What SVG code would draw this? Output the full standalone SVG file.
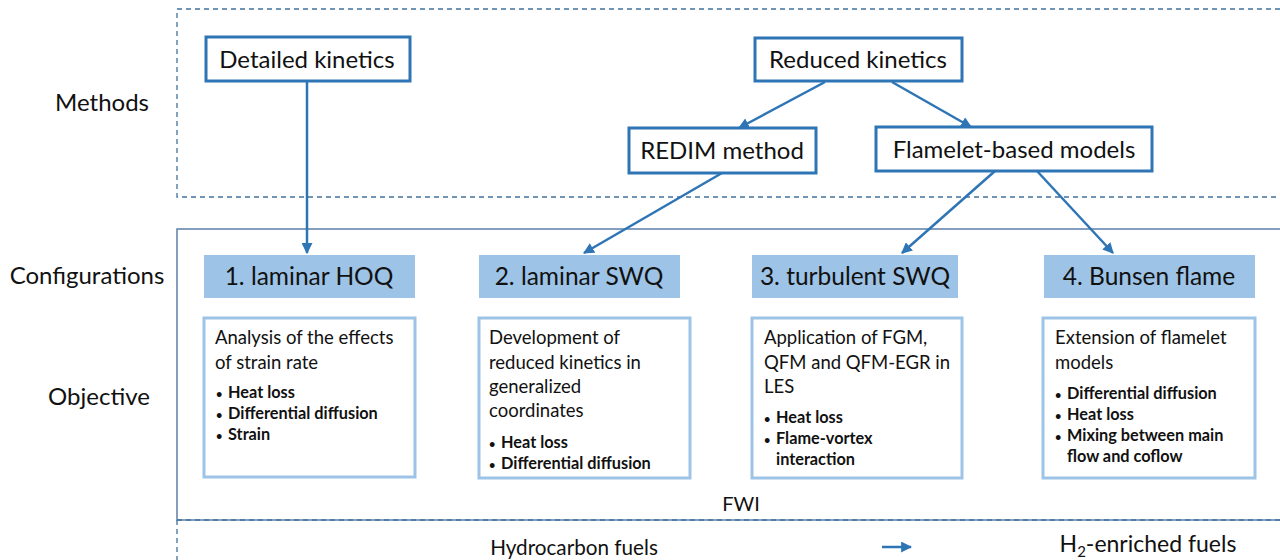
<svg xmlns="http://www.w3.org/2000/svg" width="1280" height="560" viewBox="0 0 1280 560">
<defs>
<style>
text{font-family:Lato,"Liberation Sans",sans-serif;fill:#111}
.node rect{fill:#fff;stroke:#2E75B6;stroke-width:3}
.nt{font-size:24px;text-anchor:middle}
.cfg rect{fill:#9DC3E6}
.ct{font-size:24.5px;text-anchor:middle}
.obj rect{fill:#fff;stroke:#9DC3E6;stroke-width:3}
.ot{font-size:18.5px}
.bt{font-size:16.3px;font-weight:bold}
.bu{font-size:11px}
.lab{font-size:24px;text-anchor:middle}
.conn line{stroke:#2E75B6;stroke-width:2.5;marker-end:url(#ah)}
</style>
<marker id="ah" viewBox="0 0 10 10" refX="9" refY="5" markerWidth="4.4" markerHeight="4.4" orient="auto" markerUnits="strokeWidth">
<path d="M0,0 L10,5 L0,10 z" fill="#2E75B6"/>
</marker>
</defs>
<rect width="1280" height="560" fill="#fff"/>
<g id="frames" fill="none">
<path d="M1280,9 H177 V197 H1280" stroke="#41719C" stroke-width="1.3" stroke-dasharray="5,4"/>
<path d="M1280,229 H177 V520 H1280" stroke="#5B80A8" stroke-width="1.5"/>
<path d="M177,520 V560" stroke="#41719C" stroke-width="1.3" stroke-dasharray="5,4"/>
<path d="M177,520 H1280" stroke="#41719C" stroke-width="1.3" stroke-dasharray="5,4"/>
</g>
<g id="labels">
<text class="lab" x="102" y="111">Methods</text>
<text class="lab" x="87" y="284">Configurations</text>
<text class="lab" x="99" y="405">Objective</text>
<text x="741" y="511" font-size="20" text-anchor="middle">FWI</text>
<text x="574" y="555" font-size="20.7" text-anchor="middle">Hydrocarbon fuels</text>
<text x="1148" y="552" font-size="23" text-anchor="middle">H<tspan font-size="15" dy="5">2</tspan><tspan dy="-5">-enriched fuels</tspan></text>
</g>
<g id="node-detailed" class="node"><rect x="206" y="37" width="204" height="44"/><text class="nt" x="307" y="68">Detailed kinetics</text></g>
<g id="node-reduced" class="node"><rect x="755" y="38" width="207" height="43"/><text class="nt" x="858" y="68">Reduced kinetics</text></g>
<g id="node-redim" class="node"><rect x="629" y="128" width="187" height="45"/><text class="nt" x="722" y="159">REDIM method</text></g>
<g id="node-flamelet" class="node"><rect x="876" y="127" width="276" height="44"/><text class="nt" x="1014" y="158">Flamelet-based models</text></g>
<g id="cfg1" class="cfg"><rect x="204" y="255" width="211" height="43"/><text class="ct" x="309" y="285">1. laminar HOQ</text></g>
<g id="cfg2" class="cfg"><rect x="479" y="255" width="201" height="43"/><text class="ct" x="579" y="285">2. laminar SWQ</text></g>
<g id="cfg3" class="cfg"><rect x="752" y="255" width="206" height="43"/><text class="ct" x="855" y="285">3. turbulent SWQ</text></g>
<g id="cfg4" class="cfg"><rect x="1044" y="255" width="211" height="43"/><text class="ct" x="1149" y="285">4. Bunsen flame</text></g>
<g id="obj1" class="obj"><rect x="204" y="318" width="211" height="159"/>
<text class="ot" x="215" y="344">Analysis of the effects</text>
<text class="ot" x="215" y="369">of strain rate</text>
<text class="bt" x="216" y="398"><tspan class="bu">•</tspan><tspan x="228">Heat loss</tspan></text>
<text class="bt" x="216" y="419"><tspan class="bu">•</tspan><tspan x="228">Differential diffusion</tspan></text>
<text class="bt" x="216" y="440"><tspan class="bu">•</tspan><tspan x="228">Strain</tspan></text>
</g>
<g id="obj2" class="obj"><rect x="479" y="318" width="211" height="160"/>
<text class="ot" x="489" y="344">Development of</text>
<text class="ot" x="489" y="369">reduced kinetics in</text>
<text class="ot" x="489" y="393">generalized</text>
<text class="ot" x="489" y="417">coordinates</text>
<text class="bt" x="489" y="448"><tspan class="bu">•</tspan><tspan x="501">Heat loss</tspan></text>
<text class="bt" x="489" y="469"><tspan class="bu">•</tspan><tspan x="501">Differential diffusion</tspan></text>
</g>
<g id="obj3" class="obj"><rect x="752" y="318" width="210" height="160"/>
<text class="ot" x="764" y="344">Application of FGM,</text>
<text class="ot" x="764" y="369">QFM and QFM-EGR in</text>
<text class="ot" x="764" y="393">LES</text>
<text class="bt" x="764" y="423"><tspan class="bu">•</tspan><tspan x="776">Heat loss</tspan></text>
<text class="bt" x="764" y="444"><tspan class="bu">•</tspan><tspan x="776">Flame-vortex</tspan></text>
<text class="bt" x="776" y="465">interaction</text>
</g>
<g id="obj4" class="obj"><rect x="1043" y="318" width="212" height="160"/>
<text class="ot" x="1055" y="344">Extension of flamelet</text>
<text class="ot" x="1055" y="369">models</text>
<text class="bt" x="1055" y="399"><tspan class="bu">•</tspan><tspan x="1067">Differential diffusion</tspan></text>
<text class="bt" x="1055" y="420"><tspan class="bu">•</tspan><tspan x="1067">Heat loss</tspan></text>
<text class="bt" x="1055" y="441"><tspan class="bu">•</tspan><tspan x="1067">Mixing between main</tspan></text>
<text class="bt" x="1067" y="462">flow and coflow</text>
</g>
<g id="connectors" class="conn">
<line x1="307" y1="81" x2="307" y2="253"/>
<line x1="825" y1="82" x2="739" y2="128"/>
<line x1="892" y1="82" x2="971" y2="127"/>
<line x1="722" y1="173" x2="584" y2="253"/>
<line x1="995" y1="171" x2="902" y2="253"/>
<line x1="1037" y1="171" x2="1113" y2="253"/>
<line x1="882" y1="547" x2="911" y2="547"/>
</g>
</svg>
